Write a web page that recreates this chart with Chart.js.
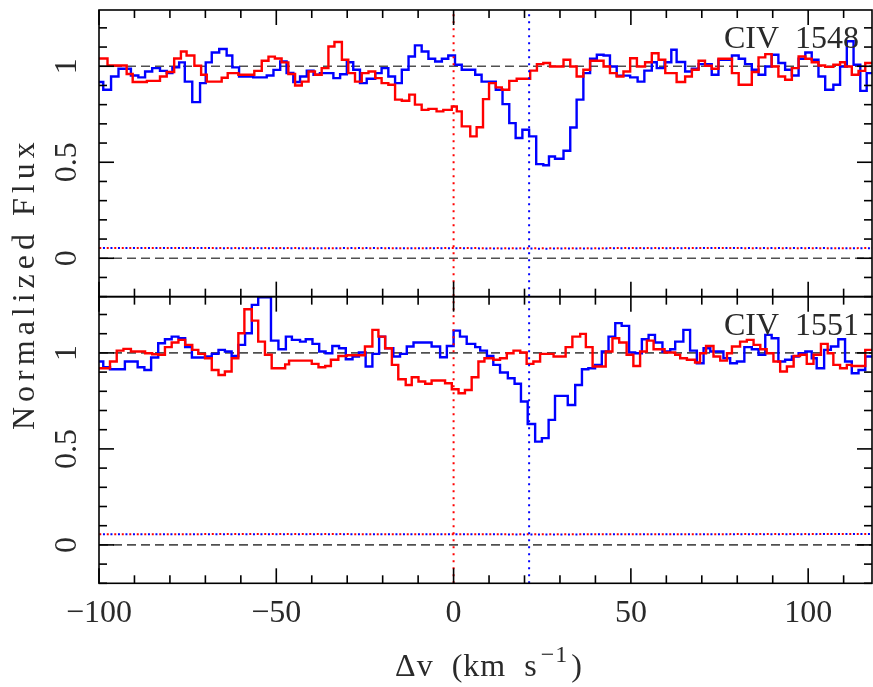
<!DOCTYPE html>
<html>
<head>
<meta charset="utf-8">
<script src="https://cdn.jsdelivr.net/npm/chart.js@4.4.1/dist/chart.umd.min.js"></script>
<style>
  html, body { margin: 0; padding: 0; background: #ffffff; }
  #wrap { width: 873px; height: 687px; position: relative; }
  canvas { display: block; }
</style>
</head>
<body>
<div id="wrap"><canvas id="chart" width="873" height="687"></canvas></div>
<script>
// ---------------- DATA ----------------
// Velocity bin edges (km/s) and normalized flux per bin, one pair per spectrum.
// Top panel: C IV 1548
const topRedVel = [-101, -97.6, -92.2, -90.5, -86.5, -82.8, -80.9, -78.8, -76.9, -75.3, -73.1, -71.2, -69.6, -65.4, -63.7, -60.7, -56.2, -54.1, -52.2, -50.4, -48.5, -46.6, -44.7, -42.8, -40.9, -39.1, -37.2, -35.3, -33.6, -31.5, -29.7, -27.8, -25.9, -24.0, -22.1, -20.3, -18.4, -16.5, -14.6, -12.5, -10.9, -9.0, -7.1, -4.8, -2.9, -0.5, 0.9, 2.3, 4.7, 6.5, 8.3, 10.0, 11.9, 13.6, 15.7, 17.8, 21.6, 23.5, 25.3, 27.2, 31.0, 32.9, 34.7, 36.6, 38.5, 42.3, 44.1, 46.0, 47.9, 49.8, 51.7, 54.0, 55.9, 57.8, 59.7, 62.9, 65.3, 67.2, 69.1, 70.9, 72.8, 74.7, 78.5, 80.4, 84.1, 86.0, 87.9, 89.7, 91.6, 93.5, 95.4, 97.3, 99.2, 101.0, 102.9, 104.8, 107.1, 109.0, 110.4, 112.3, 114.2, 116.1, 119];
const topRedFlux = [1.04, 1.004, 0.96, 0.918, 0.924, 0.947, 0.97, 1.04, 1.077, 1.056, 1.003, 0.956, 0.92, 0.94, 0.964, 0.956, 0.976, 1.029, 1.05, 1.04, 1.02, 0.96, 0.90, 0.92, 0.973, 0.956, 0.99, 1.103, 1.126, 1.034, 0.964, 0.92, 0.964, 0.973, 0.938, 0.912, 0.904, 0.826, 0.82, 0.852, 0.80, 0.773, 0.778, 0.765, 0.773, 0.79, 0.765, 0.687, 0.635, 0.682, 0.829, 0.912, 0.89, 0.878, 0.924, 0.935, 0.977, 1.011, 1.017, 0.999, 1.034, 0.999, 0.947, 0.982, 1.029, 0.999, 0.964, 0.947, 0.973, 1.042, 0.999, 1.021, 1.068, 1.034, 0.964, 0.918, 0.947, 0.982, 1.029, 1.003, 0.987, 1.039, 0.964, 0.904, 0.97, 1.046, 1.063, 0.999, 0.947, 0.93, 0.99, 1.051, 1.039, 1.021, 1.004, 0.997, 1.008, 1.021, 0.999, 0.956, 0.976, 1.017];
const topBlueVel = [-101, -98.8, -96.6, -94.5, -91.0, -88.9, -87.0, -85.0, -82.8, -80.9, -79.3, -77.4, -75.8, -73.7, -71.5, -69.9, -68.2, -66.1, -64.0, -62.4, -60.5, -56.5, -52.7, -50.8, -48.9, -47.1, -45.2, -43.3, -41.4, -39.5, -37.7, -33.9, -32.0, -30.1, -28.3, -26.4, -24.5, -22.1, -20.3, -18.4, -16.5, -14.6, -12.7, -10.9, -9.0, -7.1, -5.2, -3.3, -1.5, 0.4, 2.3, 6.1, 7.9, 11.9, 13.8, 15.7, 17.5, 19.4, 21.3, 23.3, 25.3, 26.9, 28.6, 31.0, 32.9, 34.7, 36.6, 38.5, 40.4, 42.3, 44.1, 46.0, 49.8, 51.9, 53.8, 55.9, 57.3, 59.5, 61.4, 62.9, 65.3, 67.2, 69.1, 72.8, 74.7, 78.5, 80.4, 82.2, 84.1, 86.0, 87.9, 89.7, 91.6, 93.5, 95.4, 97.3, 99.2, 101.0, 102.9, 104.8, 107.1, 109.0, 110.9, 112.8, 114.7, 116.5, 119];
const topBlueFlux = [0.918, 0.878, 0.947, 0.987, 0.952, 0.942, 0.973, 0.99, 0.976, 0.964, 0.994, 1.02, 0.92, 0.813, 0.912, 1.02, 1.072, 1.09, 1.056, 0.994, 0.947, 0.942, 0.952, 0.981, 1.025, 0.965, 0.918, 0.947, 0.977, 0.956, 0.964, 0.938, 0.958, 1.021, 0.982, 0.912, 0.935, 0.964, 0.99, 0.947, 0.912, 0.982, 1.051, 1.109, 1.077, 1.039, 1.025, 1.039, 1.056, 1.008, 0.982, 0.956, 0.92, 0.878, 0.803, 0.704, 0.626, 0.669, 0.635, 0.49, 0.484, 0.53, 0.518, 0.56, 0.681, 0.826, 0.964, 1.039, 1.06, 1.056, 0.999, 0.951, 0.942, 0.92, 0.977, 1.021, 0.99, 1.021, 1.086, 1.022, 0.973, 0.987, 1.011, 0.956, 1.034, 1.056, 1.039, 1.011, 0.982, 0.956, 0.999, 1.06, 1.017, 0.982, 0.952, 1.039, 1.072, 1.034, 0.947, 0.878, 0.904, 0.999, 1.13, 1.008, 0.872, 0.964];
// Bottom panel: C IV 1551
const botRedVel = [-101, -96.9, -95.0, -93.1, -91.0, -87.0, -85.0, -83.3, -81.4, -79.5, -77.6, -75.7, -73.7, -72.0, -70.1, -68.2, -66.3, -64.5, -62.6, -60.7, -59.0, -56.9, -55.1, -53.2, -51.3, -47.5, -46.4, -40.0, -38.1, -36.2, -34.6, -32.5, -30.1, -25.0, -22.9, -21.2, -19.3, -17.4, -15.6, -13.5, -11.8, -9.9, -8.0, -6.2, -2.4, -0.5, 1.4, 3.2, 5.1, 7.0, 8.7, 11.2, 13.1, 15.0, 16.9, 18.8, 20.6, 22.5, 24.4, 28.2, 31.6, 33.5, 35.7, 37.3, 39.2, 42.9, 44.8, 46.7, 48.8, 50.7, 52.6, 54.5, 56.4, 59.5, 62.5, 63.9, 65.8, 68.1, 69.5, 71.2, 73.3, 75.2, 77.1, 78.5, 80.8, 82.7, 84.6, 86.5, 88.3, 90.2, 92.1, 94.0, 95.9, 97.7, 99.6, 101.5, 103.6, 105.5, 107.1, 109.0, 110.9, 112.3, 116.1, 119];
const botRedFlux = [0.92, 0.955, 1.012, 1.021, 1.007, 0.998, 0.993, 0.99, 1.03, 1.054, 1.068, 1.042, 1.016, 0.995, 0.972, 0.911, 0.885, 0.903, 0.972, 1.102, 1.227, 1.168, 1.059, 0.99, 0.92, 0.94, 0.96, 0.943, 0.925, 0.932, 0.964, 0.984, 0.988, 1.033, 1.12, 1.085, 1.024, 0.9375, 0.863, 0.833, 0.873, 0.851, 0.839, 0.856, 0.842, 0.811, 0.79, 0.807, 0.873, 0.955, 0.972, 0.964, 0.972, 0.998, 1.012, 1.002, 0.943, 0.955, 0.995, 0.981, 1.03, 1.085, 1.099, 1.03, 0.929, 1.007, 1.076, 1.054, 0.99, 0.932, 1.007, 1.064, 1.019, 1.002, 0.99, 0.972, 0.964, 0.95, 0.998, 1.036, 0.981, 0.96, 0.998, 1.033, 1.059, 1.068, 1.042, 1.019, 0.998, 0.955, 0.903, 0.929, 0.984, 0.99, 0.943, 0.99, 1.047, 0.998, 0.9375, 0.92, 0.9375, 0.932, 1.016];
const botBlueVel = [-101, -98.8, -96.9, -92.7, -89.1, -87.2, -85.3, -83.3, -81.4, -79.5, -77.6, -75.7, -73.8, -70.1, -68.2, -66.3, -64.5, -62.6, -60.7, -58.8, -56.9, -55.1, -53.2, -51.5, -49.4, -47.3, -45.6, -43.3, -41.7, -39.8, -37.9, -36.1, -34.2, -32.3, -30.4, -28.5, -26.7, -24.8, -22.9, -21.0, -19.3, -17.0, -15.1, -13.2, -11.3, -6.2, -3.8, -1.9, 0.0, 1.8, 3.7, 6.1, 7.5, 9.4, 11.2, 13.1, 15.3, 17.2, 19.0, 20.9, 23.0, 24.9, 26.8, 28.6, 32.2, 34.3, 36.2, 38.0, 39.9, 41.8, 43.7, 45.6, 47.4, 49.5, 51.2, 53.1, 55.0, 56.8, 58.9, 61.1, 62.5, 64.8, 66.7, 68.6, 70.5, 72.4, 76.1, 78.0, 79.9, 82.0, 84.1, 86.0, 87.9, 89.7, 91.6, 93.5, 95.4, 97.3, 99.2, 101.0, 102.4, 104.5, 106.4, 108.5, 110.4, 112.3, 114.2, 116.1, 119];
const botBlueFlux = [0.955, 0.925, 0.915, 0.955, 0.925, 0.911, 0.976, 1.05, 1.071, 1.085, 1.076, 1.03, 0.976, 0.981, 0.995, 1.016, 1.007, 0.984, 1.042, 1.102, 1.25, 1.29, 1.29, 1.064, 1.019, 1.085, 1.068, 1.059, 1.071, 1.047, 1.007, 0.998, 1.036, 1.024, 0.967, 0.981, 1.002, 0.929, 0.995, 1.085, 1.024, 0.981, 0.995, 1.033, 1.054, 1.033, 0.977, 1.036, 1.116, 1.085, 1.047, 1.03, 1.012, 0.984, 0.9375, 0.898, 0.868, 0.839, 0.747, 0.63, 0.538, 0.556, 0.651, 0.776, 0.729, 0.833, 0.915, 0.92, 0.9375, 1.007, 1.085, 1.155, 1.141, 1.002, 0.998, 1.071, 1.094, 1.054, 1.007, 1.019, 1.059, 1.12, 1.012, 0.946, 1.024, 1.007, 0.972, 0.946, 0.955, 1.03, 1.019, 0.99, 1.094, 1.076, 0.955, 0.964, 0.981, 0.998, 1.007, 0.972, 0.92, 1.016, 1.033, 1.071, 0.955, 0.894, 0.911, 0.981];
// 1-sigma error spectra (dotted), sampled coarsely
const errVel = [-101, -75, -50, -25, 0, 25, 50, 75, 100, 119];
const topRedErr = [0.054, 0.053, 0.053, 0.052, 0.053, 0.052, 0.053, 0.053, 0.052, 0.053];
const topBlueErr = [0.053, 0.053, 0.052, 0.053, 0.052, 0.050, 0.052, 0.053, 0.053, 0.052];
const botRedErr = [0.056, 0.056, 0.057, 0.056, 0.055, 0.055, 0.056, 0.056, 0.057, 0.056];
const botBlueErr = [0.055, 0.056, 0.056, 0.055, 0.056, 0.054, 0.056, 0.056, 0.056, 0.057];
// Component velocities (vertical dotted markers)
const componentVel = [0, 21.3];
const componentColor = ['#ff0000', '#0000ff'];
// Panel labels and tick labels
const panelLabels = ['CIV  1548', 'CIV  1551'];
const xTickValues = [-100, -50, 0, 50, 100];
const xTickLabels = ['\u2212100', '\u221250', '0', '50', '100'];
const yTickValues = [0, 0.5, 1];
const yTickLabels = ['0', '0.5', '1'];
const xTitle = '\u0394v  (km  s';
const xTitleSup = '\u22121';
const yTitle = 'Normalized Flux';

// ---------------- LAYOUT CONSTANTS ----------------
const V_MIN = -100, V_MAX = 118;
const F_MIN = -0.2, F_MAX = 1.293;     // flux range of each panel
const SHIFT = F_MAX - F_MIN;            // top panel is stacked above the bottom one
const FONT = '"Liberation Serif", "DejaVu Serif", serif';
const TEXT_COLOR = '#2a2a2a';

function stepPoints(vel, flux, off) {
  const pts = flux.map((f, i) => ({ x: vel[i], y: f + off }));
  const endX = vel[flux.length] !== undefined ? vel[flux.length] : V_MAX + 1;
  pts.push({ x: endX, y: flux[flux.length - 1] + off });
  return pts;
}
function plainPoints(vel, vals, off) {
  return vals.map((f, i) => ({ x: vel[i], y: f + off }));
}

const datasets = [];
// reference continuum / zero levels (dashed)
[0, SHIFT].forEach(off => {
  [0, 1].forEach(level => {
    datasets.push({
      data: [{ x: V_MIN, y: level + off }, { x: V_MAX, y: level + off }],
      borderColor: '#505050', borderWidth: 1.6, borderDash: [9, 5],
      pointRadius: 0, order: 10
    });
  });
});
// spectra
const spectra = [
  [topBlueVel, topBlueFlux, SHIFT, '#0000ff', 5],
  [topRedVel, topRedFlux, SHIFT, '#ff0000', 4],
  [botBlueVel, botBlueFlux, 0, '#0000ff', 5],
  [botRedVel, botRedFlux, 0, '#ff0000', 4]
];
spectra.forEach(([v, f, off, col, ord]) => {
  datasets.push({
    data: stepPoints(v, f, off), stepped: true,
    borderColor: col, borderWidth: 2.4, pointRadius: 0, order: ord,
    borderJoinStyle: 'miter'
  });
});
// error spectra (dotted)
[[topBlueErr, SHIFT, '#0000ff'], [topRedErr, SHIFT, '#ff0000'], [botBlueErr, 0, '#0000ff'], [botRedErr, 0, '#ff0000']]
  .forEach(([e, off, col], k) => {
    datasets.push({
      data: plainPoints(errVel, e, off),
      borderColor: col, borderWidth: 2, borderDash: [2, 5.5], borderDashOffset: k % 2 ? 3.7 : 0,
      pointRadius: 0, order: 3
    });
  });
// component markers (vertical dotted)
componentVel.forEach((v, i) => {
  datasets.push({
    data: [{ x: v, y: F_MIN }, { x: v, y: F_MAX + SHIFT }],
    borderColor: componentColor[i], borderWidth: 2, borderDash: [2, 5],
    pointRadius: 0, order: 2
  });
});

const frameTicks = {
  id: 'frameTicks',
  afterDatasetsDraw(chart) {
    const { ctx, chartArea: a, scales: { x, y } } = chart;
    ctx.save();
    ctx.strokeStyle = '#000';
    ctx.lineWidth = 1.6;
    ctx.setLineDash([]);
    const seg = (x1, y1, x2, y2) => { ctx.beginPath(); ctx.moveTo(x1, y1); ctx.lineTo(x2, y2); ctx.stroke(); };
    [SHIFT, 0].forEach((off, p) => {
      const top = y.getPixelForValue(F_MAX + off);
      const bot = y.getPixelForValue(F_MIN + off);
      ctx.strokeRect(a.left, top, a.right - a.left, bot - top);
      for (let v = -100; v <= 110; v += 10) {
        const px = x.getPixelForValue(v);
        const len = (v % 50 === 0) ? 15 : 8;
        seg(px, bot, px, bot - len);
        seg(px, top, px, top + len);
      }
      for (let k = -2; k <= 12; k++) {
        const py = y.getPixelForValue(k / 10 + off);
        const len = (k % 5 === 0) ? 15 : 8;
        seg(a.left, py, a.left + len, py);
        seg(a.right, py, a.right - len, py);
      }
      // panel label
      ctx.fillStyle = TEXT_COLOR;
      ctx.font = '32px ' + FONT;
      ctx.textAlign = 'right';
      ctx.textBaseline = 'alphabetic';
      ctx.fillText(panelLabels[p], a.right - 13, top + 38);
      // y tick labels (rotated)
      yTickValues.forEach((val, i) => {
        const py = y.getPixelForValue(val + off);
        ctx.save();
        ctx.translate(a.left - 23, py);
        ctx.rotate(-Math.PI / 2);
        ctx.textAlign = 'center';
        ctx.fillText(yTickLabels[i], 0, 0);
        ctx.restore();
      });
    });
    // x tick labels
    ctx.fillStyle = TEXT_COLOR;
    ctx.font = '32px ' + FONT;
    ctx.textAlign = 'center';
    ctx.textBaseline = 'alphabetic';
    xTickValues.forEach((v, i) => {
      ctx.fillText(xTickLabels[i], x.getPixelForValue(v), a.bottom + 39);
    });
    // x title with superscript
    ctx.font = '32px ' + FONT;
    ctx.letterSpacing = '1px';
    const wMain = ctx.measureText(xTitle).width;
    ctx.font = '24px ' + FONT;
    const wSup = ctx.measureText(xTitleSup).width;
    ctx.font = '32px ' + FONT;
    const wClose = ctx.measureText(')').width;
    const total = wMain + 3 + wSup + 3 + wClose;
    let sx = 489 - total / 2;
    const by = a.bottom + 93;
    ctx.textAlign = 'left';
    ctx.fillText(xTitle, sx, by);
    ctx.font = '24px ' + FONT;
    ctx.fillText(xTitleSup, sx + wMain + 3, by - 14);
    ctx.font = '32px ' + FONT;
    ctx.fillText(')', sx + wMain + wSup + 6, by);
    ctx.letterSpacing = '0px';
    // y title
    ctx.save();
    ctx.translate(a.left - 65, (a.top + a.bottom) / 2 - 13);
    ctx.rotate(-Math.PI / 2);
    ctx.textAlign = 'center';
    ctx.letterSpacing = '5px';
    ctx.fillText(yTitle, 0, 0);
    ctx.restore();
    ctx.restore();
  }
};

new Chart(document.getElementById('chart'), {
  type: 'line',
  data: { datasets },
  options: {
    responsive: false,
    animation: false,
    devicePixelRatio: 1,
    layout: { padding: { left: 99, right: 1, top: 10, bottom: 103.7 } },
    plugins: { legend: { display: false }, tooltip: { enabled: false } },
    elements: { line: { tension: 0 } },
    scales: {
      x: { type: 'linear', min: V_MIN, max: V_MAX, display: false },
      y: { type: 'linear', min: F_MIN, max: F_MAX + SHIFT, display: false }
    }
  },
  plugins: [frameTicks]
});
</script>
</body>
</html>
